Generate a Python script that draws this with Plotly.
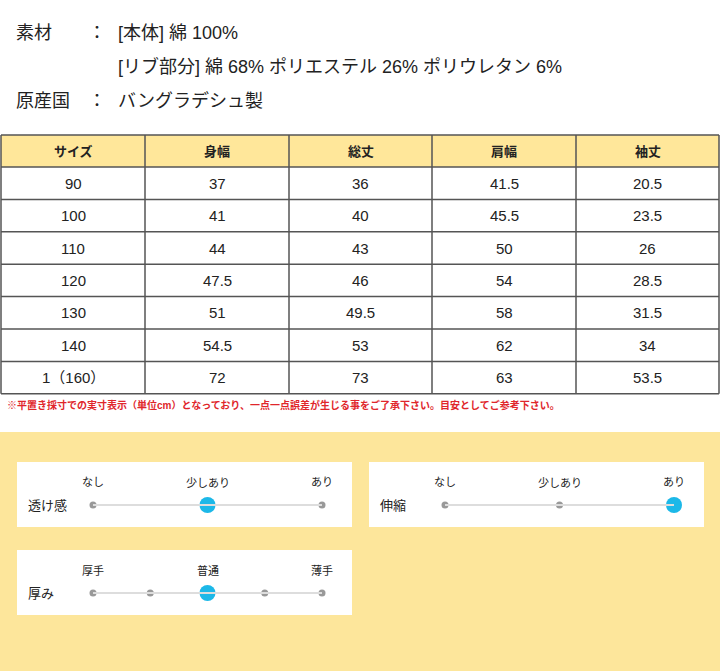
import plotly.graph_objects as go

# table data
headers = ["サイズ", "身幅", "総丈", "肩幅", "袖丈"]
sizes = ["90", "100", "110", "120", "130", "140", "1（160）"]
mihaba = ["37", "41", "44", "47.5", "51", "54.5", "72"]
sotake = ["36", "40", "43", "46", "49.5", "53", "73"]
katahaba = ["41.5", "45.5", "50", "54", "58", "62", "63"]
sodetake = ["20.5", "23.5", "26", "28.5", "31.5", "34", "53.5"]

# rating scales
scale_names = ["透け感", "伸縮", "厚み"]
scale_labels = [["なし", "少しあり", "あり"], ["なし", "少しあり", "あり"], ["厚手", "普通", "薄手"]]
scale_steps = [3, 3, 5]
scale_values = [1, 2, 2]  # index of selected step

FONT = "Liberation Sans, Noto Sans CJK JP"
fig = go.Figure()
shapes = []
ann = []

def text(x, y, s, size=13, color="#222", anchor="center", bold=False):
    if bold:
        s = "<b>" + s + "</b>"
    ann.append(dict(x=x, y=y, text=s, showarrow=False, xanchor=anchor, yanchor="middle",
                    font=dict(family=FONT, size=size, color=color)))

# header text block
text(14, 33, "素材", 18, anchor="left")
text(97, 33, "：", 18, anchor="center")
text(116, 33, "[本体] 綿 100%", 18, anchor="left")
text(116, 66, "[リブ部分] 綿 68% ポリエステル 26% ポリウレタン 6%", 18, anchor="left")
text(14, 101, "原産国", 18, anchor="left")
text(97, 101, "：", 18, anchor="center")
text(116, 101, "バングラデシュ製", 18, anchor="left")

# table
col_x = [1, 145, 289, 432, 576, 719]
top, head_h, row_h = 135, 32, 32.4
columns = [sizes, mihaba, sotake, katahaba, sodetake]
shapes.append(dict(type="rect", x0=col_x[0], x1=col_x[-1], y0=top, y1=top + head_h,
                   fillcolor="#FFE79A", line=dict(width=0), layer="below"))
n = len(sizes)
bottom = top + head_h + n * row_h
for i, h in enumerate(headers):
    cx = (col_x[i] + col_x[i + 1]) / 2
    text(cx, top + head_h / 2, h, 13, bold=True)
    for r, v in enumerate(columns[i]):
        text(cx, top + head_h + (r + 0.5) * row_h, v, 15)
for xv in col_x:
    shapes.append(dict(type="line", x0=xv, x1=xv, y0=top, y1=bottom, line=dict(color="#555", width=1.5)))
for r in range(n + 2):
    yv = top if r == 0 else top + head_h + (r - 1) * row_h
    shapes.append(dict(type="line", x0=col_x[0], x1=col_x[-1], y0=yv, y1=yv, line=dict(color="#555", width=1.5)))

text(5, 405, "※平置き採寸での実寸表示（単位cm）となっており、一点一点誤差が生じる事をご了承下さい。目安としてご参考下さい。",
     10, color="#E0262B", anchor="left", bold=True)

# yellow area
shapes.append(dict(type="rect", x0=0, x1=720, y0=432, y1=671, fillcolor="#FDE69B",
                   line=dict(width=0), layer="below"))
panels = [(17, 462), (369, 462), (17, 550)]
for k, (px0, py0) in enumerate(panels):
    shapes.append(dict(type="rect", x0=px0, x1=px0 + 335, y0=py0, y1=py0 + 65,
                       fillcolor="white", line=dict(width=0), layer="below"))
    text(px0 + 9, py0 + 43, scale_names[k], 13, anchor="left")
    x_start, x_end = px0 + 76, px0 + 305
    dy = py0 + 43
    shapes.append(dict(type="line", x0=x_start, x1=x_end, y0=dy, y1=dy, line=dict(color="#ddd", width=2)))
    steps = scale_steps[k]
    xs = [x_start + (x_end - x_start) * j / (steps - 1) for j in range(steps)]
    for j, lab in enumerate(scale_labels[k]):
        text(x_start + (x_end - x_start) * j / 2, py0 + 20, lab, 11)
    fig.add_trace(go.Scatter(x=xs, y=[dy] * steps, mode="markers",
                             marker=dict(size=7, color="#999"), hoverinfo="skip"))
    fig.add_trace(go.Scatter(x=[xs[scale_values[k]]], y=[dy], mode="markers",
                             marker=dict(size=16, color="#1CB8E8"), hoverinfo="skip"))

fig.update_layout(width=720, height=671, margin=dict(l=0, r=0, t=0, b=0),
                  plot_bgcolor="white", paper_bgcolor="white", showlegend=False,
                  shapes=shapes, annotations=ann,
                  xaxis=dict(range=[0, 720], visible=False, fixedrange=True),
                  yaxis=dict(range=[671, 0], visible=False, fixedrange=True))
fig.write_html("out.html", config={"displayModeBar": False},
               post_script="document.body.style.margin='0';document.body.style.overflow='hidden';")
